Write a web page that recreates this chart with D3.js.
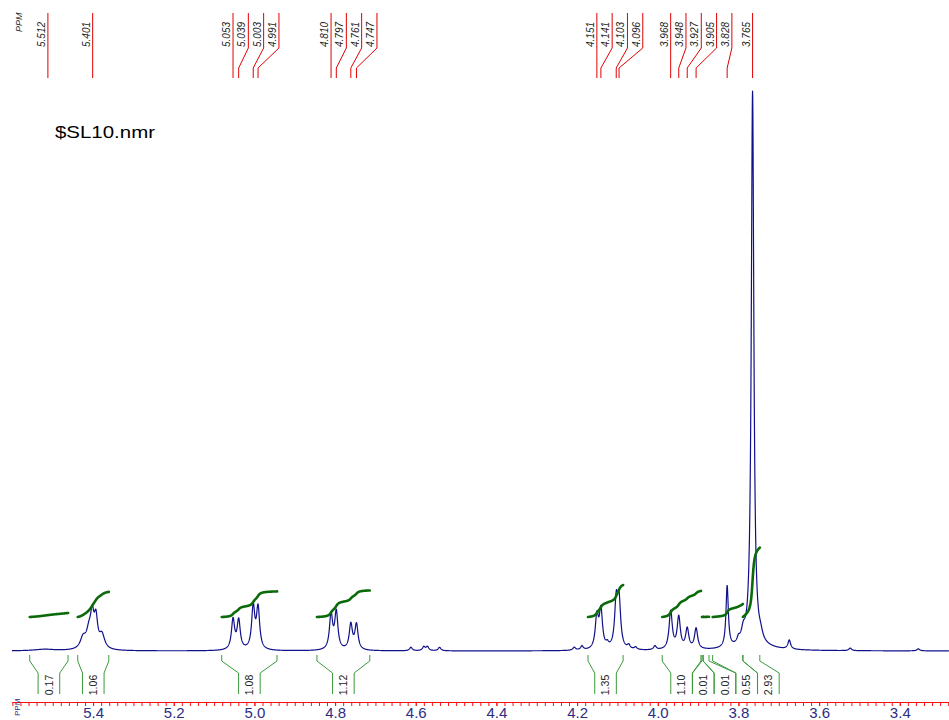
<!DOCTYPE html>
<html><head><meta charset="utf-8">
<script src="https://cdn.jsdelivr.net/npm/d3@7"></script>
<style>
body{margin:0;background:#fff}
svg{display:block}
text{font-family:"Liberation Sans",Arial,Helvetica,sans-serif}
</style>
</head><body>
<svg id="c" width="949" height="720"></svg>
<script>
// Picked peak shifts (ppm), listed along the top of the spectrum
const peakLabels = [5.512, 5.401, 5.053, 5.039, 5.003, 4.991, 4.810, 4.797, 4.761, 4.747,
  4.151, 4.141, 4.103, 4.096, 3.968, 3.948, 3.927, 3.905, 3.828, 3.765];

// Line list: centre (ppm), relative height (% of tallest line), half width at half height (ppm)
const lineShift  = [5.520, 5.425, 5.410, 5.402, 5.393, 5.378,
  5.053, 5.039, 5.003, 4.991, 4.810, 4.797, 4.761, 4.747,
  4.612, 4.580, 4.571, 4.541, 4.207, 4.188,
  4.151, 4.141, 4.125, 4.103, 4.096, 4.072, 4.055, 4.007,
  3.968, 3.948, 3.927, 3.905, 3.828, 3.800, 3.788, 3.765, 3.760, 3.745,
  3.674, 3.523, 3.354];
const lineHeight = [0.27, 1.9, 3.1, 5.0, 5.0, 2.5,
  5.35, 5.17, 7.5, 7.3, 6.2, 6.6, 4.5, 4.5,
  0.62, 0.7, 0.7, 0.62, 0.53, 0.7,
  5.7, 6.8, 0.7, 8.0, 8.0, 0.7, 0.45, 0.7,
  6.8, 5.7, 3.6, 3.7, 11.0, 0.9, 2.1, 99, 0.53, 1.1,
  1.6, 0.45, 0.36];
const lineWidth  = [0.03, 0.008, 0.008, 0.005, 0.005, 0.008,
  0.0047, 0.0047, 0.0047, 0.0047, 0.0047, 0.0047, 0.0047, 0.0047,
  0.004, 0.004, 0.004, 0.004, 0.004, 0.004,
  0.0047, 0.0047, 0.004, 0.0047, 0.0047, 0.004, 0.004, 0.004,
  0.0047, 0.0047, 0.0047, 0.0047, 0.0035, 0.004, 0.006, 0.0038, 0.06, 0.006,
  0.004, 0.004, 0.004];

// Integral regions (ppm) and their normalised areas
const integralFrom  = [5.557, 5.438, 5.081, 4.845, 4.173, 3.989, 3.8905, 3.8875, 3.864, 3.789];
const integralTo    = [5.462, 5.361, 4.944, 4.714, 4.086, 3.893, 3.8875, 3.873, 3.789, 3.747];
const integralValue = [0.17, 1.06, 1.08, 1.12, 1.35, 1.10, 0.01, 0.01, 0.55, 2.93];

// Labelled axis positions (ppm)
const axisTicks = [5.4, 5.2, 5.0, 4.8, 4.6, 4.4, 4.2, 4.0, 3.8, 3.6, 3.4];

const svg = d3.select("#c");
const x = d3.scaleLinear().domain([5.601, 3.278]).range([12, 949]);
const y = d3.scaleLinear().domain([0, 100]).range([651, 90]);
const yInt = d3.scaleLinear().domain([0, 1]).range([617, 593.3]);

// Sum of Lorentzian lines
function intensity(p) {
  let s = 0;
  for (let i = 0; i < lineShift.length; i++) {
    const d = (p - lineShift[i]) / lineWidth[i];
    s += lineHeight[i] / (1 + d * d);
  }
  return s;
}
const step = 0.0004;
const grid = d3.range(5.601, 3.278, -step);
const spectrum = grid.map(p => [p, intensity(p)]);

// Spectrum trace
svg.append("path")
  .datum(spectrum)
  .attr("fill", "none")
  .attr("stroke", "#10108a")
  .attr("stroke-width", 1.2)
  .attr("stroke-linejoin", "round")
  .attr("d", d3.line().x(d => x(d[0])).y(d => y(d[1])));

// Integral curves
integralFrom.forEach((a, i) => {
  const b = integralTo[i];
  const pts = d3.range(a, b - step / 2, -step / 2);
  let cum = 0;
  const raw = pts.map(p => { cum += intensity(p); return [p, cum]; });
  const total = cum || 1;
  const curve = raw.map(([p, c]) => [p, c / total * integralValue[i]]);
  svg.append("path")
    .datum(curve)
    .attr("fill", "none")
    .attr("stroke", "#0b6b0b")
    .attr("stroke-width", 2.6)
    .attr("stroke-linecap", "round")
    .attr("d", d3.line().x(d => x(d[0])).y(d => yInt(d[1])));
});

// Integral brackets and values
let prevC = -1e9;
const bracket = svg.append("g").attr("stroke", "#3c9a3c").attr("stroke-width", 1).attr("fill", "none");
integralFrom.forEach((a, i) => {
  const x0 = x(a), x1 = x(integralTo[i]);
  const c = Math.max((x0 + x1) / 2, prevC + 21.7);
  prevC = c;
  const xl = c - 10.8, xr = c + 10.8;
  bracket.append("path").attr("d", `M${x0},655V661L${xl},673V694M${x1},655V661L${xr},673V694`);
  svg.append("text")
    .attr("transform", `translate(${c + 3.7},685) rotate(-90)`)
    .attr("text-anchor", "middle")
    .attr("font-size", 10.5)
    .attr("fill", "#222")
    .text(integralValue[i].toFixed(2));
});

// Peak shift labels with leader lines
let prevL = -1e9;
const leaders = svg.append("g").attr("stroke", "#e00000").attr("stroke-width", 1).attr("fill", "none");
peakLabels.forEach(p => {
  const px = x(p);
  const lx = Math.max(px, prevL + 15.3);
  prevL = lx;
  leaders.append("path").attr("d", `M${lx},13V48L${px},68V78`);
  svg.append("text")
    .attr("transform", `translate(${lx - 3},47) rotate(-90)`)
    .attr("font-size", 10)
    .attr("font-style", "italic")
    .attr("fill", "#222")
    .text(p.toFixed(3));
});
svg.append("text")
  .attr("transform", "translate(22,32) rotate(-90)")
  .attr("font-size", 9)
  .attr("font-style", "italic")
  .attr("fill", "#333")
  .text("PPM");

// Title
svg.append("text")
  .attr("x", 55).attr("y", 138)
  .attr("font-size", 17)
  .attr("textLength", 100)
  .attr("lengthAdjust", "spacingAndGlyphs")
  .attr("fill", "#000")
  .text("$SL10.nmr");

// Chemical shift axis
const minorTicks = d3.range(3.28, 5.601, 0.02);
const gMinor = svg.append("g").attr("transform", "translate(0,702)")
  .call(d3.axisBottom(x).tickValues(minorTicks).tickSize(4).tickSizeOuter(0).tickFormat(""));
const gMajor = svg.append("g").attr("transform", "translate(0,702)")
  .call(d3.axisBottom(x).tickValues(axisTicks).tickSize(4).tickSizeOuter(0).tickFormat(d3.format(".1f")));
[gMinor, gMajor].forEach(g => {
  g.selectAll("path,line").attr("stroke", "#ff1010");
});
gMajor.selectAll("text")
  .attr("y", 16).attr("dy", 0)
  .attr("font-size", 15)
  .attr("font-family", "'Liberation Sans',Arial,sans-serif")
  .attr("fill", "#2d2d84");
svg.append("text")
  .attr("transform", "translate(20,716) rotate(-90)")
  .attr("font-size", 8)
  .attr("fill", "#2d2d84")
  .text("PPM");
</script>
</body></html>
